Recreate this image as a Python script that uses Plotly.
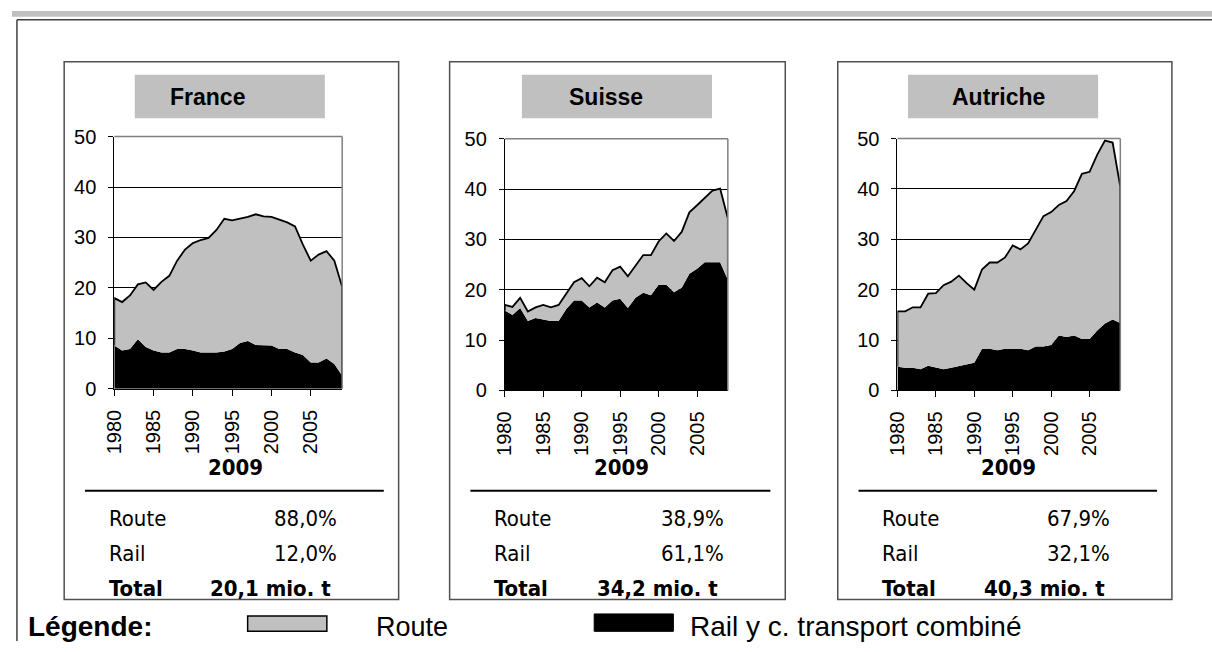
import plotly.graph_objects as go

# ---------------- data ----------------
years = list(range(1980, 2010))

france_rail = [8.6, 7.6, 7.9, 9.8, 8.3, 7.6, 7.2, 7.2, 7.9, 7.9, 7.6, 7.2, 7.2, 7.2, 7.4,
               7.9, 9.1, 9.5, 8.7, 8.6, 8.6, 7.9, 7.9, 7.2, 6.7, 5.2, 5.2, 6.0, 4.9, 2.6]
france_route = [9.4, 9.6, 10.6, 10.9, 12.8, 12.0, 14.0, 15.2, 17.5, 19.7, 21.3, 22.3, 22.7, 24.3, 26.3,
                25.5, 24.6, 24.6, 25.9, 25.6, 25.5, 25.6, 25.1, 25.0, 21.9, 20.2, 21.4, 21.3, 20.5, 17.6]

suisse_rail = [15.9, 15.0, 16.4, 13.8, 14.4, 14.1, 13.8, 13.8, 16.2, 17.9, 17.9, 16.5, 17.5, 16.5, 17.9,
               18.2, 16.4, 18.4, 19.4, 18.9, 21.0, 21.0, 19.5, 20.4, 23.2, 24.2, 25.5, 25.5, 25.5, 22.0]
suisse_route = [1.1, 1.6, 2.0, 1.9, 2.1, 2.9, 2.7, 3.2, 3.1, 3.6, 4.4, 4.2, 4.9, 5.0, 6.0,
                6.4, 6.3, 6.4, 7.5, 8.0, 8.6, 10.2, 10.2, 11.1, 12.2, 12.6, 12.8, 14.2, 14.6, 12.2]

autriche_rail = [4.7, 4.5, 4.5, 4.2, 4.9, 4.5, 4.2, 4.5, 4.8, 5.1, 5.5, 8.3, 8.3, 8.0, 8.3,
                 8.3, 8.3, 8.0, 8.7, 8.7, 9.0, 10.9, 10.6, 10.9, 10.2, 10.2, 11.9, 13.3, 14.1, 13.4]
autriche_route = [11.0, 11.2, 12.0, 12.3, 14.3, 14.8, 16.7, 17.1, 18.0, 16.2, 14.5, 15.7, 17.1, 17.4, 18.1,
                  20.5, 19.7, 21.2, 23.2, 25.9, 26.4, 25.9, 27.0, 28.7, 32.8, 33.2, 34.9, 36.3, 35.1, 27.0]

countries = ["France", "Suisse", "Autriche"]
rail_series = [france_rail, suisse_rail, autriche_rail]
route_series = [france_route, suisse_route, autriche_route]
route_share = ["88,0%", "38,9%", "67,9%"]
rail_share = ["12,0%", "61,1%", "32,1%"]
total_text = ["20,1 mio. t", "34,2 mio. t", "40,3 mio. t"]
year_label = "2009"
row_labels = ["Route", "Rail", "Total"]
xtick_vals = [1980, 1985, 1990, 1995, 2000, 2005]
ytick_vals = [0, 10, 20, 30, 40, 50]
legend_title = "Légende:"
legend_route = "Route"
legend_rail = "Rail y c. transport combiné"

# ---------------- geometry (pixels) ----------------
W, H = 1212, 652


def px(x):
    return x / W


def py(y):
    return 1 - y / H


plots = [(103.3, 333.5, 391.0, 130.0), (497.7, 723.0, 392.7, 132.3), (894.3, 1119.4, 392.7, 132.0)]
boxes = [(52.7, 390.5), (442.0, 781.0), (834.0, 1171.5)]
box_top, box_bottom = 52.5, 609.0
title_boxes = [(124, 316), (515, 707), (905, 1097)]
title_cx = [197, 600, 996]

SANS = "Liberation Sans, Arial, sans-serif"
NARROW = "Liberation Sans Narrow, Arial Narrow, DejaVu Sans Condensed, sans-serif"
GRAY = "#c0c0c0"

fig = go.Figure()
shapes = []
annotations = []

# page decorations
shapes.append(dict(type="rect", xref="paper", yref="paper", x0=0, x1=1, y0=py(6), y1=1,
                   fillcolor=GRAY, line=dict(width=0), layer="below"))
shapes.append(dict(type="line", xref="paper", yref="paper", x0=px(5), x1=1, y0=py(9), y1=py(9),
                   line=dict(color="#404040", width=1.5)))
shapes.append(dict(type="line", xref="paper", yref="paper", x0=px(5), x1=px(5), y0=0, y1=py(9),
                   line=dict(color="#404040", width=1.5)))

for i in range(3):
    sfx = "" if i == 0 else str(i + 1)
    xa, ya = "x" + sfx, "y" + sfx
    rail, route = rail_series[i], route_series[i]
    total = [a + b for a, b in zip(rail, route)]
    fig.add_trace(go.Scatter(x=years, y=rail, stackgroup="s%d" % i, mode="lines",
                             line=dict(width=0, color="black"), fillcolor="black",
                             xaxis=xa, yaxis=ya, hoverinfo="skip"))
    fig.add_trace(go.Scatter(x=years, y=route, stackgroup="s%d" % i, mode="lines",
                             line=dict(width=0, color=GRAY), fillcolor=GRAY,
                             xaxis=xa, yaxis=ya, hoverinfo="skip"))
    ox = [years[0]] + years + [years[-1]]
    oy = [rail[0]] + total + [rail[-1]]
    fig.add_trace(go.Scatter(x=ox, y=oy, mode="lines", line=dict(color="black", width=1.8),
                             xaxis=xa, yaxis=ya, hoverinfo="skip"))

    x0, x1, y0, y1 = plots[i]
    xkey = "xaxis" + sfx
    ykey = "yaxis" + sfx
    fig.layout[xkey] = dict(domain=[px(x0), px(x1)], anchor=ya, range=[1980, 2009],
                            tickvals=xtick_vals, ticktext=[str(v) for v in xtick_vals],
                            tickangle=-90, ticks="outside", ticklen=6, tickcolor="black",
                            showline=True, linecolor="black", linewidth=1, showgrid=False,
                            zeroline=False, ticklabelstandoff=6,
                            tickfont=dict(family=SANS, size=20, color="black"))
    fig.layout[ykey] = dict(domain=[py(y0), py(y1)], anchor=xa, range=[0, 50],
                            tickvals=ytick_vals, ticks="outside", ticklen=5, tickcolor="black",
                            showline=True, linecolor="black", linewidth=1, showgrid=True,
                            gridcolor="black", gridwidth=1, zeroline=False, ticklabelstandoff=8,
                            tickfont=dict(family=SANS, size=20, color="black"))
    # plot-area border (top / right)
    shapes.append(dict(type="line", xref=xa + " domain", yref=ya + " domain", x0=0, x1=1, y0=1, y1=1,
                       line=dict(color="#808080", width=1.5)))
    shapes.append(dict(type="line", xref=xa + " domain", yref=ya + " domain", x0=1, x1=1, y0=0, y1=1,
                       line=dict(color="#808080", width=1.5)))

    # panel frame
    bl, br = boxes[i]
    shapes.append(dict(type="rect", xref="paper", yref="paper", x0=px(bl), x1=px(br),
                       y0=py(box_bottom), y1=py(box_top), line=dict(color="#505050", width=1.5)))
    # title box
    tl, tr = title_boxes[i]
    shapes.append(dict(type="rect", xref="paper", yref="paper", x0=px(tl), x1=px(tr),
                       y0=py(111), y1=py(66), fillcolor=GRAY, line=dict(width=0), layer="below"))
    annotations.append(dict(text="<b>%s</b>" % countries[i], x=px(title_cx[i]), y=py(89),
                            xref="paper", yref="paper", showarrow=False, xanchor="center",
                            yanchor="middle", font=dict(family=SANS, size=23, color="black")))
    # year label + separator
    annotations.append(dict(text="<b>%s</b>" % year_label, x=px((bl + br) / 2 + 4), y=py(472),
                            xref="paper", yref="paper", showarrow=False, xanchor="center",
                            yanchor="middle", font=dict(family=NARROW, size=22, color="black")))
    shapes.append(dict(type="line", xref="paper", yref="paper", x0=px(bl + 21), x1=px(br - 15),
                       y0=py(496.5), y1=py(496.5), line=dict(color="black", width=2)))
    # table
    rows_y = [525.5, 561.5, 598.0]
    vals = [route_share[i], rail_share[i], total_text[i]]
    for r in range(3):
        bold = r == 2
        lab = "<b>%s</b>" % row_labels[r] if bold else row_labels[r]
        val = "<b>%s</b>" % vals[r] if bold else vals[r]
        annotations.append(dict(text=lab, x=px(bl + 43), y=py(rows_y[r]), xref="paper", yref="paper",
                                showarrow=False, xanchor="left", yanchor="middle",
                                font=dict(family=NARROW, size=22, color="black")))
        annotations.append(dict(text=val, x=px(br - (66 if bold else 60)), y=py(rows_y[r]),
                                xref="paper", yref="paper", showarrow=False, xanchor="right",
                                yanchor="middle", font=dict(family=NARROW, size=22, color="black")))

# legend row
annotations.append(dict(text="<b>%s</b>" % legend_title, x=px(14), y=py(637), xref="paper", yref="paper",
                        showarrow=False, xanchor="left", yanchor="middle",
                        font=dict(family=SANS, size=28, color="black")))
shapes.append(dict(type="rect", xref="paper", yref="paper", x0=px(238), x1=px(318), y0=py(642), y1=py(626),
                   fillcolor=GRAY, line=dict(color="black", width=1.5)))
annotations.append(dict(text=legend_route, x=px(366), y=py(637), xref="paper", yref="paper",
                        showarrow=False, xanchor="left", yanchor="middle",
                        font=dict(family=SANS, size=27, color="black")))
shapes.append(dict(type="rect", xref="paper", yref="paper", x0=px(588), x1=px(668), y0=py(642), y1=py(624),
                   fillcolor="black", line=dict(color="black", width=1)))
annotations.append(dict(text=legend_rail, x=px(683), y=py(637), xref="paper", yref="paper",
                        showarrow=False, xanchor="left", yanchor="middle",
                        font=dict(family=SANS, size=28, color="black")))

fig.update_layout(width=W, height=H, margin=dict(l=0, r=0, t=0, b=0),
                  paper_bgcolor="white", plot_bgcolor="white", showlegend=False,
                  hovermode=False, shapes=shapes, annotations=annotations)

post = ("document.documentElement.style.margin='0';document.documentElement.style.padding='0';"
        "document.body.style.margin='0';document.body.style.padding='0';document.body.style.overflow='hidden';"
        "var d=document.getElementsByClassName('plotly-graph-div')[0];"
        "d.style.position='fixed';d.style.left='0px';d.style.top='0px';")
fig.write_html("out.html", config={"displayModeBar": False, "staticPlot": True}, post_script=post)
